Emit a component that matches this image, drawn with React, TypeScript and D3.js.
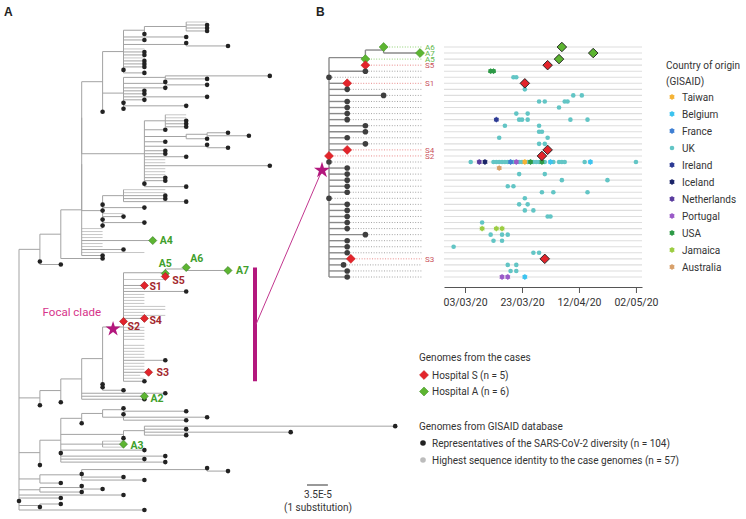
import React, { useEffect, useRef } from 'react';
import * as d3 from 'd3';

// ---------- DATA ----------
// Panel A tree: Newick-like, numbers = depth from root in substitutions
const C1a = "(((g:9,b:9,b:9,b:9):8,b:6):6,b:8,b:6,(b:8,b:10):8,g:6,b:6,b:6,g:6,b:6,b:6,b:6,b:5,b:6):5";
const C1c = "((b:12,b:9):7,(b:7,b:9):7,b:7,b:6,b:6,b:9,b:6,b:5,b:8,b:5):5";
const C1 = `(${C1a},${C1c},b:4):4`;
const C2 = "((g:8,g:8,b:8,b:8,b:8):7,b:7,((b:10,b:11):9,b:9):8,b:7,(b:9,b:10):9,b:7,b:7,b:8,g:7,g:7,b:12,g:7,g:7,g:7,b:7,b:7,b:6,b:8):6";
const C3 = "((g:7,g:7,b:7,b:7,b:8):5,b:4,b:6,b:4,g:5,b:5,b:4,b:6,b:4):4";
const BIG = `(((${C1},${C2}):3,${C3}):3,g:4,g:4,g:4,g:4,A4:6.4,g:4,g:4,b:5,g:6,b:4):3`;
const cladeU = `((${BIG},b:4):2,b:1,b:2):1`;
const cladeF = "((((FOCAL:5,b:4,b:4,b:5):4,b:7,A2:6,b:6):3,b:2):2,b:1):1";
const cladeG = "(((((b:5,b:8):5,(b:5,b:9,b:8):5):4,b:3):3,((b:18,b:8,b:13,b:8):6,b:5):5,(g:5,A3:5,g:5):4,b:6,b:2,b:7,b:6,b:7):2,b:1):1";
const cladeH = "(((b:9,b:10):9,b:3,b:5,b:6):3,b:2):1";
const cladeI = "((b:3,b:4):3,b:3):1";
const treeANewick = `(${cladeU},${cladeF},${cladeG},${cladeH},${cladeI},b:5,b:2,b:0,(b:2,b:1):1,b:6)`;

// Focal clade (panel B), depth relative to clade root
const focalNewick =
  "(((A6:3,A7:5):3,A5:2,S5:2):2,g:2,g:0,S1:1,g:1,b:3,g:1,g:1,g:1,g:1,g:2,g:2,g:1,g:2,S4:1,S2:0,g:0," +
  "g:1,g:1,g:1,g:1,g:1,g:0,g:1,g:1,g:1,g:1,g:1,b:2,g:1,g:1,g:1,S3:1.2,g:0.8,g:1,b:1)focal";

const caseDates: [string, string][] = [
  ["A6", "2020-04-06"], ["A7", "2020-04-17"], ["A5", "2020-04-05"], ["S5", "2020-04-01"],
  ["S1", "2020-03-24"], ["S4", "2020-04-01"], ["S2", "2020-03-30"], ["S3", "2020-03-31"],
];

const countries = ["Taiwan", "Belgium", "France", "UK", "Ireland", "Iceland", "Netherlands", "Portugal", "USA", "Jamaica", "Australia"];
const countryColors = ["#f5b335", "#3cc3ef", "#3f7fd3", "#62c5c5", "#2c3a94", "#1b2468", "#5a3c9e", "#9a5ac8", "#2d9a46", "#9ccd42", "#d8a06a"];

// [row, date, country]
const gisaidDates: [number, string, string][] = [
  [4, "2020-03-12", "USA"], [4, "2020-03-13", "USA"],
  [5, "2020-03-20", "UK"], [5, "2020-03-21", "UK"],
  [7, "2020-03-24", "UK"],
  [8, "2020-04-10", "UK"], [8, "2020-04-13", "UK"],
  [9, "2020-03-29", "UK"], [9, "2020-03-31", "UK"], [9, "2020-04-07", "UK"], [9, "2020-04-08", "UK"],
  [10, "2020-04-05", "UK"],
  [11, "2020-03-21", "UK"], [11, "2020-03-25", "UK"],
  [12, "2020-03-14", "Ireland"], [12, "2020-03-22", "UK"], [12, "2020-03-23", "UK"], [12, "2020-03-25", "UK"], [12, "2020-04-09", "UK"], [12, "2020-04-15", "UK"],
  [13, "2020-03-17", "UK"], [13, "2020-03-29", "UK"],
  [14, "2020-03-29", "UK"], [14, "2020-03-30", "UK"],
  [15, "2020-03-15", "UK"], [15, "2020-04-01", "UK"],
  [16, "2020-03-29", "UK"], [16, "2020-03-31", "UK"],
  [19, "2020-03-05", "UK"], [19, "2020-03-13", "UK"], [19, "2020-03-14", "UK"], [19, "2020-03-15", "UK"], [19, "2020-03-16", "UK"],
  [19, "2020-03-17", "UK"], [19, "2020-03-18", "UK"], [19, "2020-03-20", "UK"], [19, "2020-03-22", "UK"], [19, "2020-03-23", "UK"],
  [19, "2020-03-25", "UK"], [19, "2020-03-27", "UK"], [19, "2020-03-28", "UK"], [19, "2020-03-29", "UK"], [19, "2020-03-31", "UK"],
  [19, "2020-04-03", "UK"], [19, "2020-04-05", "UK"], [19, "2020-04-06", "UK"], [19, "2020-04-07", "UK"], [19, "2020-04-14", "UK"], [19, "2020-05-02", "UK"],
  [19, "2020-03-08", "Netherlands"], [19, "2020-03-10", "Iceland"], [19, "2020-03-19", "France"], [19, "2020-03-21", "Portugal"],
  [19, "2020-03-24", "Taiwan"], [19, "2020-03-26", "USA"], [19, "2020-03-30", "USA"], [19, "2020-04-02", "Belgium"], [19, "2020-04-16", "Belgium"],
  [20, "2020-03-15", "Australia"],
  [21, "2020-03-22", "UK"], [21, "2020-03-31", "UK"],
  [22, "2020-04-06", "UK"], [22, "2020-04-22", "UK"],
  [23, "2020-03-18", "UK"], [23, "2020-03-20", "UK"],
  [24, "2020-03-30", "UK"], [24, "2020-04-03", "UK"], [24, "2020-04-15", "UK"],
  [25, "2020-03-24", "UK"],
  [26, "2020-03-22", "UK"], [26, "2020-03-25", "UK"],
  [27, "2020-03-24", "UK"], [27, "2020-03-27", "UK"],
  [28, "2020-04-01", "UK"], [28, "2020-04-02", "UK"],
  [29, "2020-03-09", "UK"],
  [30, "2020-03-09", "Jamaica"], [30, "2020-03-14", "Jamaica"], [30, "2020-03-16", "Jamaica"],
  [31, "2020-03-12", "UK"], [31, "2020-03-16", "UK"], [31, "2020-03-18", "UK"],
  [32, "2020-03-13", "UK"], [32, "2020-03-16", "UK"],
  [33, "2020-02-28", "UK"],
  [34, "2020-03-27", "UK"], [34, "2020-03-29", "UK"],
  [36, "2020-03-18", "UK"], [36, "2020-03-21", "UK"],
  [37, "2020-03-19", "UK"], [37, "2020-03-21", "UK"],
  [38, "2020-03-16", "Portugal"], [38, "2020-03-18", "Portugal"], [38, "2020-03-24", "Belgium"],
];

const dateTicks = ["2020-03-03", "2020-03-23", "2020-04-12", "2020-05-02"];

const caseLegend = [["Hospital S (n = 5)", "S"], ["Hospital A (n = 6)", "A"]];
const gisaidLegend = [["Representatives of the SARS-CoV-2 diversity (n = 104)", "b"], ["Highest sequence identity to the case genomes (n = 57)", "g"]];

// ---------- helpers ----------
type TNode = { name?: string; depth: number; children?: TNode[] };

function parseNewick(src: string): TNode {
  const s = src.replace(/\s+/g, '');
  let i = 0;
  const readName = () => {
    let name = '';
    while (i < s.length && !':,()'.includes(s[i])) name += s[i++];
    return name;
  };
  const node = (): TNode => {
    const n: TNode = { depth: 0 };
    if (s[i] === '(') {
      i++;
      n.children = [];
      for (;;) {
        n.children.push(node());
        const c = s[i++];
        if (c === ')') break;
      }
    }
    n.name = readName();
    if (s[i] === ':') {
      i++;
      let num = '';
      while (i < s.length && /[-0-9.]/.test(s[i])) num += s[i++];
      n.depth = +num;
    }
    return n;
  };
  return node();
}
function shift(n: TNode, d: number): TNode {
  return { name: n.name, depth: n.depth + d, children: n.children?.map(c => shift(c, d)) };
}
function graft(n: TNode, name: string, sub: TNode): TNode {
  if (!n.children) return n.name === name ? shift(sub, n.depth) : n;
  return { ...n, children: n.children.map(c => graft(c, name, sub)) };
}
function layout(t: TNode) {
  const h: any = d3.hierarchy<TNode>(t, d => d.children);
  h.leaves().forEach((l: any, i: number) => (l.yi = i));
  h.eachAfter((n: any) => {
    if (n.children) n.yi = (n.children[0].yi + n.children[n.children.length - 1].yi) / 2;
  });
  return h;
}

const RED = '#e3242b', GREEN = '#5db531';
const diamond = (w: number) => d3.symbol(d3.symbolSquare, (w * w) / 2)() as string;
const asterisk = d3.symbol(d3.symbolAsterisk, 22)() as string;
const star = (s: number) => d3.symbol(d3.symbolStar, s)() as string;
const parseDate = d3.timeParse('%Y-%m-%d');

const labelOffA: Record<string, [number, number, string]> = {
  A4: [7, 0, 'start'], A5: [0, -10, 'middle'], A6: [4, -9, 'start'], A7: [8, 0, 'start'],
  S5: [7, 4, 'start'], S1: [5, 1, 'start'], S4: [5, 2, 'start'], S2: [4, 5, 'start'],
  S3: [8, 0, 'start'], A2: [6, 2, 'start'], A3: [7, 1, 'start'],
};

function CountryMark({ x, y, c }: { x: number; y: number; c: string }) {
  const col = countryColors[countries.indexOf(c)];
  if (c === 'UK') return <circle cx={x} cy={y} r={2.3} fill={col} />;
  return (
    <g transform={`translate(${x},${y})`}>
      <path d={asterisk} fill="none" stroke={col} strokeWidth={1} strokeOpacity={0.8} />
      <circle r={2.4} fill={col} />
    </g>
  );
}

export default function App() {
  const axisRef = useRef<SVGGElement>(null);

  // ---- Panel A ----
  const focal = parseNewick(focalNewick);
  const treeA = graft(parseNewick(treeANewick), 'FOCAL', focal);
  const hA = layout(treeA);
  const leavesA = hA.leaves();
  const xA = d3.scaleLinear().domain([0, 1]).range([19, 19 + 20.9]);
  const yA = d3.scaleLinear().domain([0, leavesA.length - 1]).range([22, 510]);
  const nodesA: any[] = hA.descendants();
  const focalA = nodesA.find(n => n.data.name === 'focal');
  const focalLeaves = focalA.leaves();
  const barTop = yA(focalLeaves[0].yi), barBot = yA(focalLeaves[focalLeaves.length - 1].yi);
  const barX = 255, barMid = (barTop + barBot) / 2;

  // ---- Panel B ----
  const hB = layout(focal);
  const rowsB: any[] = hB.leaves();
  const nodesB: any[] = hB.descendants();
  const yB = d3.scaleLinear().domain([0, rowsB.length - 1]).range([47, 277]);
  const xB = d3.scaleLinear().domain([0, 5]).range([329, 420]);
  const tx = d3.scaleTime().domain([new Date(2020, 1, 24, 15), new Date(2020, 4, 4, 3)]).range([444, 642]);
  const starB = { x: xB(0) - 7, y: yB(hB.yi) + 3 };

  useEffect(() => {
    if (!axisRef.current) return;
    const g = d3.select(axisRef.current);
    g.selectAll('*').remove();
    g.call(
      d3.axisBottom(tx)
        .tickValues(dateTicks.map(d => parseDate(d) as Date))
        .tickFormat(d3.timeFormat('%d/%m/%y') as any)
        .tickSize(6)
        .tickPadding(6)
        .tickSizeOuter(0)
    );
    g.selectAll('path,line').attr('stroke', '#555');
    g.selectAll('text').attr('font-family', 'Roboto, sans-serif').attr('font-size', 10.5).attr('fill', '#333');
  }, []);

  const isCase = (n: string) => /^[SA]\d/.test(n);
  const caseCol = (n: string) => (n[0] === 'S' ? RED : GREEN);

  return (
    <svg width={746} height={519} style={{ position: 'absolute', left: 0, top: 0, background: '#fff' }} fontFamily="Roboto, sans-serif">
      {/* Panel labels */}
      <text x={4} y={16} fontSize={12} fontWeight="bold" fontFamily="Arial, sans-serif" fill="#222">A</text>
      <text x={316} y={16} fontSize={12} fontWeight="bold" fontFamily="Arial, sans-serif" fill="#222">B</text>

      {/* ===== Panel A tree ===== */}
      <g>
        {nodesA.filter(n => n.parent).map((n, i) => (
          <line key={'ha' + i} x1={xA(n.parent.data.depth)} x2={xA(n.data.depth)} y1={yA(n.yi)} y2={yA(n.yi)}
            stroke={n.data.name === 'g' ? '#c6c6c6' : '#a3a3a3'} strokeWidth={1} />
        ))}
        {nodesA.filter(n => n.children).map((n, i) => (
          <line key={'va' + i} x1={xA(n.data.depth)} x2={xA(n.data.depth)}
            y1={yA(n.children[0].yi)} y2={yA(n.children[n.children.length - 1].yi)} stroke="#a3a3a3" strokeWidth={1} />
        ))}
        {leavesA.filter((n: any) => n.data.name === 'b').map((n: any, i: number) => (
          <circle key={'da' + i} cx={xA(n.data.depth)} cy={yA(n.yi)} r={2.3} fill="#222" />
        ))}
        {leavesA.filter((n: any) => isCase(n.data.name)).map((n: any, i: number) => {
          const nm = n.data.name, cx = xA(n.data.depth), cy = yA(n.yi);
          const off = labelOffA[nm] || [7, 0, 'start'];
          return (
            <g key={'ca' + i}>
              <path d={diamond(8)} transform={`translate(${cx},${cy}) rotate(45)`} fill={caseCol(nm)} stroke={nm[0] === 'S' ? '#9c1a1a' : '#2f7a1d'} strokeWidth={0.6} />
              <text x={cx + off[0]} y={cy + off[1]} dy="0.35em" textAnchor={off[2] as any} fontSize={10.5} fontWeight="bold"
                fill={nm[0] === 'S' ? '#a3282d' : '#3fa02c'}>{nm}</text>
            </g>
          );
        })}
        {/* focal star & label */}
        <path d={star(70)} transform={`translate(${(xA(focalA.parent.data.depth) + xA(focalA.data.depth)) / 2},${yA(focalA.yi) + 2})`} fill="#b3177d" />
        <text x={101} y={yA(focalA.yi) - 11} textAnchor="end" fontSize={11.5} fill="#d6338a">Focal clade</text>
        {/* bar and connector */}
        <line x1={barX} x2={barX} y1={barTop} y2={barBot} stroke="#b3177d" strokeWidth={4} />
        <line x1={barX + 1} y1={barMid} x2={starB.x} y2={starB.y} stroke="#c2378f" strokeWidth={1} />
        {/* scale bar */}
        <line x1={307} x2={307 + (xA(1) - xA(0))} y1={485} y2={485} stroke="#333" strokeWidth={1} />
        <text x={318} y={498} textAnchor="middle" fontSize={10} fill="#333">3.5E-5</text>
        <text x={318} y={511} textAnchor="middle" fontSize={10} fill="#333">(1 substitution)</text>
      </g>

      {/* ===== Panel B tree ===== */}
      <g>
        {rowsB.map((n, i) => (
          <line key={'rl' + i} x1={444} x2={642} y1={yB(n.yi)} y2={yB(n.yi)} stroke="#dedede" strokeWidth={1.1} />
        ))}
        {rowsB.map((n, i) => {
          const nm = n.data.name;
          const col = nm[0] === 'S' ? '#e88b8b' : nm[0] === 'A' ? '#8fcf73' : '#a5a5a5';
          return <line key={'dl' + i} x1={xB(n.data.depth) + 3} x2={422} y1={yB(n.yi)} y2={yB(n.yi)} stroke={col} strokeWidth={1} strokeDasharray="1,1.6" />;
        })}
        {nodesB.filter(n => n.parent).map((n, i) => (
          <line key={'hb' + i} x1={xB(n.parent.data.depth)} x2={xB(n.data.depth)} y1={yB(n.yi)} y2={yB(n.yi)} stroke="#8a8a8a" strokeWidth={1.4} />
        ))}
        {nodesB.filter(n => n.children).map((n, i) => (
          <line key={'vb' + i} x1={xB(n.data.depth)} x2={xB(n.data.depth)} y1={yB(n.children[0].yi)} y2={yB(n.children[n.children.length - 1].yi)} stroke="#8a8a8a" strokeWidth={1.4} />
        ))}
        {rowsB.map((n, i) => {
          const nm = n.data.name, cx = xB(n.data.depth), cy = yB(n.yi);
          if (isCase(nm)) return (
            <g key={'mb' + i}>
              <path d={diamond(9)} transform={`translate(${cx},${cy}) rotate(45)`} fill={caseCol(nm)} stroke={nm[0] === 'S' ? '#c41c1c' : '#3c8f22'} strokeWidth={0.5} />
              <text x={425} y={cy} dy="0.35em" fontSize={8} fill={nm[0] === 'S' ? '#c9525c' : '#62b84c'}>{nm}</text>
            </g>
          );
          return <circle key={'mb' + i} cx={cx} cy={cy} r={2.8} fill="#3f3f3f" />;
        })}
        <path d={star(80)} transform={`translate(${starB.x},${starB.y})`} fill="#b3177d" />

        {/* date markers */}
        {gisaidDates.filter(d => d[2] === 'UK').map((d, i) => (
          <CountryMark key={'gu' + i} x={tx(parseDate(d[1]) as Date)} y={yB(d[0])} c={d[2]} />
        ))}
        {gisaidDates.filter(d => d[2] !== 'UK').map((d, i) => (
          <CountryMark key={'go' + i} x={tx(parseDate(d[1]) as Date)} y={yB(d[0])} c={d[2]} />
        ))}
        {caseDates.map(([nm, dt], i) => {
          const row = rowsB.find(r => r.data.name === nm);
          return (
            <path key={'cd' + i} d={diamond(9.5)} transform={`translate(${tx(parseDate(dt) as Date)},${yB(row.yi)}) rotate(45)`}
              fill={caseCol(nm)} stroke="#222" strokeWidth={0.9} />
          );
        })}
        <g ref={axisRef} transform="translate(0,287)" />
      </g>

      {/* ===== Country legend ===== */}
      <g fontSize={10} fill="#333">
        <text x={666} y={65} dy="0.35em">Country of origin</text>
        <text x={666} y={81} dy="0.35em">(GISAID)</text>
        {countries.map((c, i) => (
          <g key={'lg' + i}>
            <CountryMark x={672} y={97 + 17 * i} c={c} />
            <text x={682} y={97 + 17 * i} dy="0.35em">{c}</text>
          </g>
        ))}
      </g>

      {/* ===== Bottom legend ===== */}
      <g fontSize={10} fill="#333">
        <text x={419} y={357} dy="0.35em">Genomes from the cases</text>
        {caseLegend.map(([t, k], i) => (
          <g key={'cl' + i}>
            <path d={diamond(9)} transform={`translate(${424},${375 + 16.5 * i}) rotate(45)`} fill={k === 'S' ? RED : GREEN} stroke={k === 'S' ? '#c41c1c' : '#3c8f22'} strokeWidth={0.5} />
            <text x={432} y={375 + 16.5 * i} dy="0.35em">{t}</text>
          </g>
        ))}
        <text x={419} y={426} dy="0.35em">Genomes from GISAID database</text>
        {gisaidLegend.map(([t, k], i) => (
          <g key={'gl' + i}>
            <circle cx={423} cy={443 + 17 * i} r={2.8} fill={k === 'b' ? '#222' : '#bcbcbc'} />
            <text x={432} y={443 + 17 * i} dy="0.35em">{t}</text>
          </g>
        ))}
      </g>
    </svg>
  );
}
